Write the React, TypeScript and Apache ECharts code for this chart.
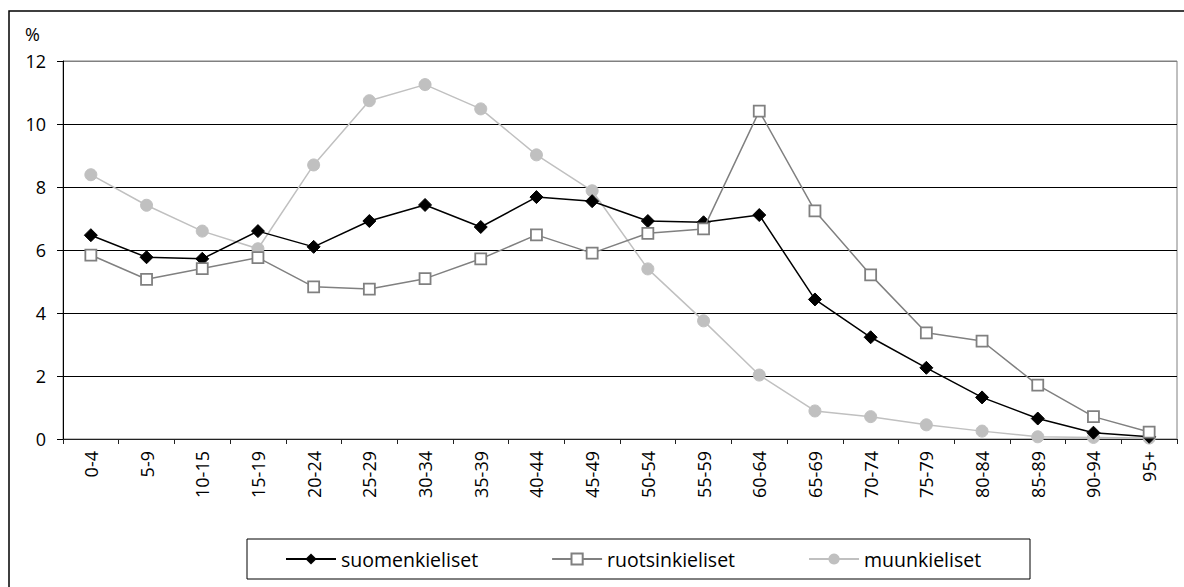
import React, { useEffect, useRef } from "react";
import * as echarts from "echarts";

const categories = ["0-4", "5-9", "10-15", "15-19", "20-24", "25-29", "30-34", "35-39", "40-44", "45-49", "50-54", "55-59", "60-64", "65-69", "70-74", "75-79", "80-84", "85-89", "90-94", "95+"];
const suomenkieliset = [6.47, 5.77, 5.72, 6.6, 6.1, 6.92, 7.43, 6.73, 7.68, 7.55, 6.92, 6.88, 7.11, 4.43, 3.23, 2.26, 1.32, 0.65, 0.2, 0.07];
const ruotsinkieliset = [5.84, 5.07, 5.41, 5.76, 4.83, 4.76, 5.09, 5.72, 6.48, 5.9, 6.53, 6.67, 10.41, 7.24, 5.21, 3.37, 3.11, 1.71, 0.71, 0.22];
const muunkieliset = [8.39, 7.42, 6.6, 6.04, 8.7, 10.74, 11.25, 10.48, 9.02, 7.88, 5.4, 3.75, 2.03, 0.89, 0.71, 0.45, 0.25, 0.07, 0.05, 0.03];
const seriesNames = ["suomenkieliset", "ruotsinkieliset", "muunkieliset"];

const FONT = "'Open Sans', 'Noto Sans', sans-serif";

export default function App() {
  const ref = useRef<HTMLDivElement>(null);
  useEffect(() => {
    if (!ref.current) return;
    const chart = echarts.init(ref.current, null, { renderer: "svg" });
    chart.setOption({
      animation: false,
      backgroundColor: "#fff",
      textStyle: { fontFamily: FONT },
      grid: {
        left: 63,
        top: 61,
        right: 7,
        bottom: 148,
        show: true,
        borderColor: "#808080",
        borderWidth: 1,
        containLabel: false,
      },
      graphic: [
        {
          type: "rect",
          shape: { x: 9, y: 11, width: 1200, height: 600 },
          style: { fill: "none", stroke: "#000", lineWidth: 1.5 },
          silent: true,
        },
        {
          type: "rect",
          shape: { x: 247, y: 539, width: 783, height: 40 },
          style: { fill: "#fff", stroke: "#000", lineWidth: 1 },
          silent: true,
          z: 0,
        },
        {
          type: "text",
          x: 25,
          y: 34,
          style: { text: "%", font: `18px ${FONT}`, fill: "#000", textVerticalAlign: "middle" },
        },
      ],
      legend: {
        data: seriesNames,
        left: 285,
        top: 549,
        padding: 0,
        itemGap: 73,
        itemWidth: 50,
        itemHeight: 14,
        textStyle: { fontSize: 19.5, color: "#000", fontFamily: FONT },
        z: 5,
      },
      xAxis: {
        type: "category",
        data: categories,
        boundaryGap: true,
        axisLine: { lineStyle: { color: "#222", width: 1 } },
        axisTick: { show: true, length: 5, lineStyle: { color: "#222" } },
        axisLabel: { rotate: 90, margin: 12, fontSize: 18, color: "#000", fontFamily: FONT, interval: 0 },
        splitLine: { show: false },
      },
      yAxis: {
        type: "value",
        min: 0,
        max: 12,
        interval: 2,
        axisLine: { show: true, lineStyle: { color: "#000", width: 1 } },
        axisTick: { show: true, length: 6, lineStyle: { color: "#000" } },
        axisLabel: { margin: 17, fontSize: 18, color: "#000", fontFamily: FONT },
        splitLine: {
          show: true,
          lineStyle: { color: ["#000", "#000", "#000", "#000", "#000", "#000", "#808080"], width: 1 },
        },
      },
      series: [
        {
          name: seriesNames[0],
          type: "line",
          data: suomenkieliset,
          symbol: "diamond",
          symbolSize: 13,
          lineStyle: { color: "#000", width: 1.5 },
          itemStyle: { color: "#000", borderColor: "#000" },
          z: 3,
        },
        {
          name: seriesNames[1],
          type: "line",
          data: ruotsinkieliset,
          symbol: "rect",
          symbolSize: 11,
          lineStyle: { color: "#808080", width: 1.5 },
          itemStyle: { color: "#fff", borderColor: "#808080", borderWidth: 1.8 },
          z: 4,
        },
        {
          name: seriesNames[2],
          type: "line",
          data: muunkieliset,
          symbol: "circle",
          symbolSize: 12,
          lineStyle: { color: "#c0c0c0", width: 1.5 },
          itemStyle: { color: "#c0c0c0", borderColor: "#c0c0c0" },
          z: 2,
        },
      ],
    });
    return () => chart.dispose();
  }, []);
  return <div ref={ref} style={{ position: "fixed", left: 0, top: 0, width: 1184, height: 587 }} />;
}
